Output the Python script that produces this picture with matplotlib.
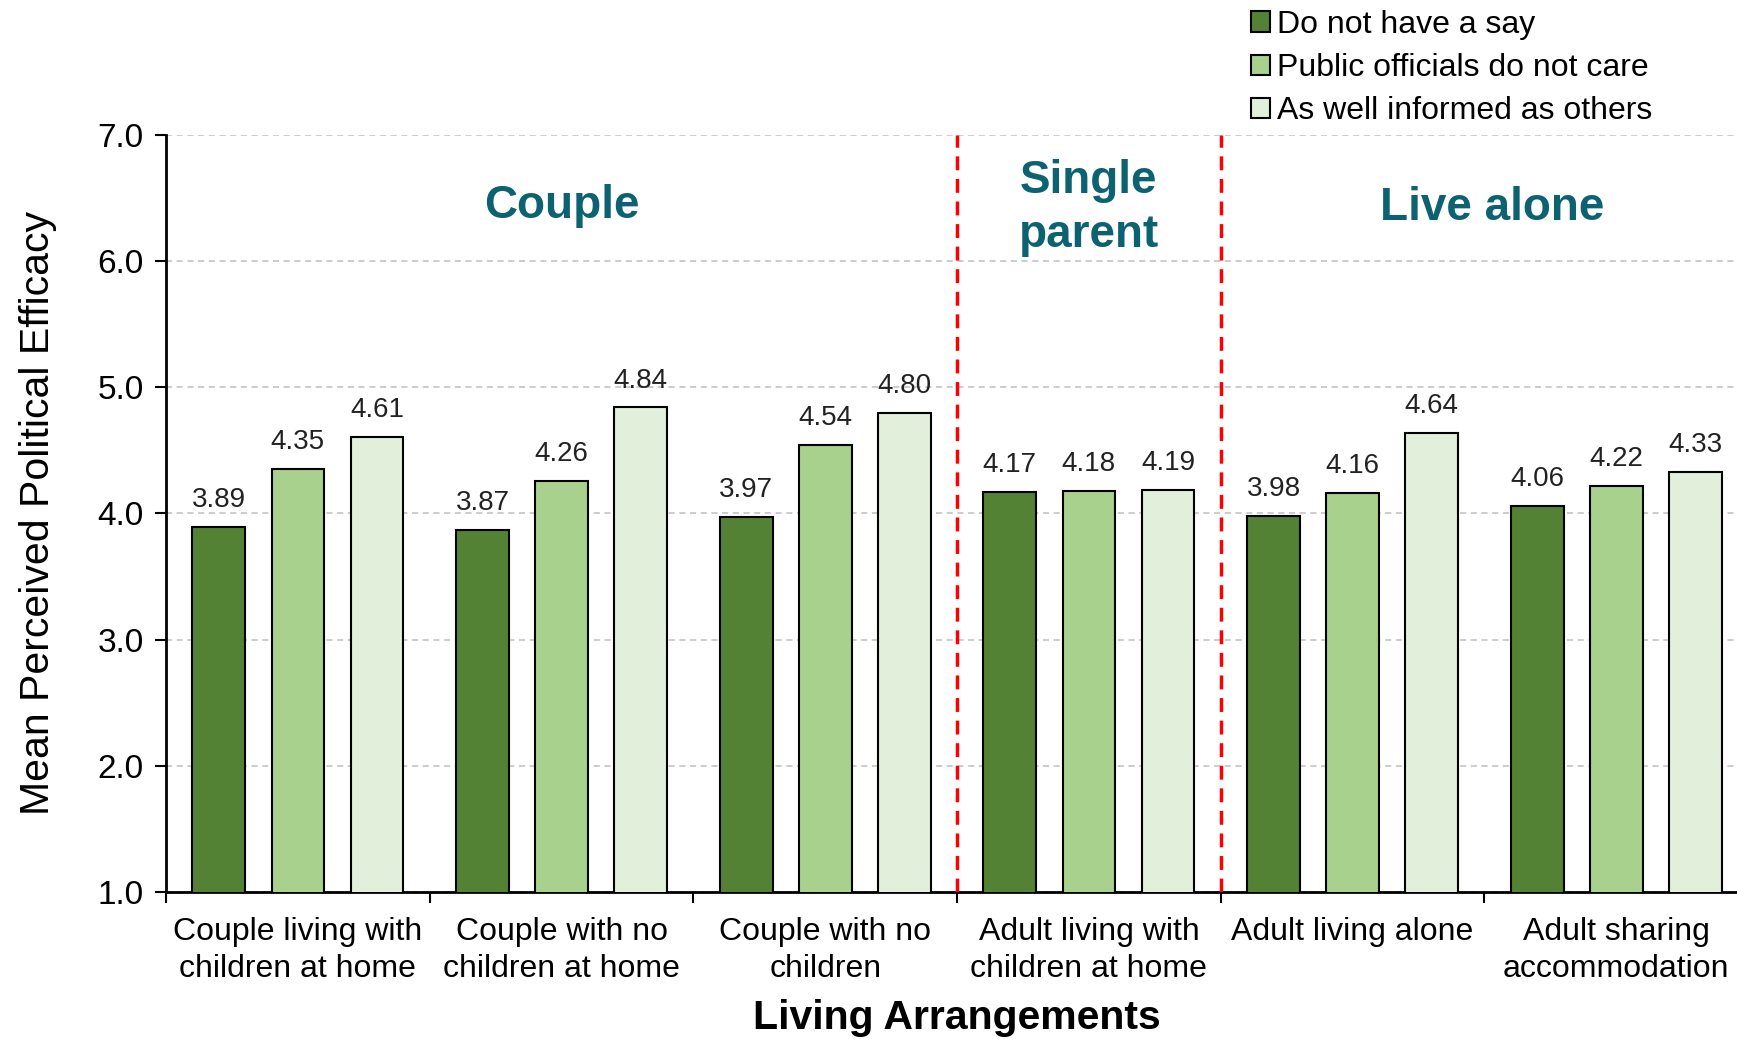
import numpy as np
import matplotlib.pyplot as plt

plt.rcParams['font.family'] = ['Liberation Sans', 'DejaVu Sans']

# data
categories = ["Couple living with\nchildren at home", "Couple with no\nchildren at home",
              "Couple with no\nchildren", "Adult living with\nchildren at home",
              "Adult living alone", "Adult sharing\naccommodation"]
series_names = ["Do not have a say", "Public officials do not care", "As well informed as others"]
no_say = [3.89, 3.87, 3.97, 4.17, 3.98, 4.06]
no_care = [4.35, 4.26, 4.54, 4.18, 4.16, 4.22]
informed = [4.61, 4.84, 4.80, 4.19, 4.64, 4.33]
group_titles = ["Couple", "Single\nparent", "Live alone"]
group_title_x = [1.0, 3.0, 4.53]
group_title_y = [6.44, 6.42, 6.42]
colors = ['#548235', '#A9D18E', '#E2EFDA']

fig = plt.figure(figsize=(17.37, 10.39), dpi=100)
ax = fig.add_axes([0.0956, 0.1415, 0.9108, 0.7286])

x = np.arange(len(categories))
offsets = [-0.3, 0.0, 0.3]
for vals, off, col, name in zip([no_say, no_care, informed], offsets, colors, series_names):
    bars = ax.bar(x + off, vals, width=0.2, color=col, edgecolor='black', linewidth=1.5,
                  label=name, zorder=3)
    for b, v in zip(bars, vals):
        ax.annotate("%.2f" % v, (b.get_x() + b.get_width() / 2, v), xytext=(0, 10),
                    textcoords='offset points', ha='center', va='bottom', fontsize=20,
                    color='#222222')

ax.set_ylim(1, 7)
ax.set_xlim(-0.5, 5.5)
ax.set_yticks(np.arange(1, 8, 1))
ax.set_yticklabels(["%.1f" % t for t in np.arange(1, 8, 1)], fontsize=24)
ax.yaxis.grid(True, linestyle=(0, (4, 3)), color='#BFBFBF', linewidth=1.1, zorder=0)

# group boundaries as major ticks, names as minor ticks
ax.set_xticks(np.arange(-0.5, 6.0, 1))
ax.set_xticklabels([])
ax.set_xticks(x, minor=True)
ax.set_xticklabels(categories, minor=True, fontsize=23, linespacing=1.3)
ax.tick_params(axis='x', which='minor', length=0, pad=18)
ax.tick_params(axis='x', which='major', length=8, width=1.5)
ax.tick_params(axis='y', length=8, width=1.5, pad=8)

for s in ['top', 'right']:
    ax.spines[s].set_visible(False)
for s in ['left', 'bottom']:
    ax.spines[s].set_linewidth(2)

# red dashed separators
for xv in [2.5, 3.5]:
    ax.plot([xv, xv], [1, 7], color='#FF0000', linestyle=(0, (4, 2.5)), linewidth=2.5, zorder=4)

for t, tx, ty in zip(group_titles, group_title_x, group_title_y):
    ax.text(tx, ty, t, ha='center', va='center', fontsize=33, fontweight='bold',
            color='#0D6272', linespacing=1.3)

ax.set_ylabel("Mean Perceived Political Efficacy", fontsize=29.5, labelpad=29)
ax.set_xlabel("Living Arrangements", fontsize=29.5, fontweight='bold', labelpad=11)

fig.legend(loc='upper left', bbox_to_anchor=(0.713, 1.003), frameon=False, fontsize=23,
           handlelength=0.6, handleheight=0.6, handletextpad=0.2, labelspacing=0.42,
           borderaxespad=0)

fig.savefig("out.png", dpi=100)
